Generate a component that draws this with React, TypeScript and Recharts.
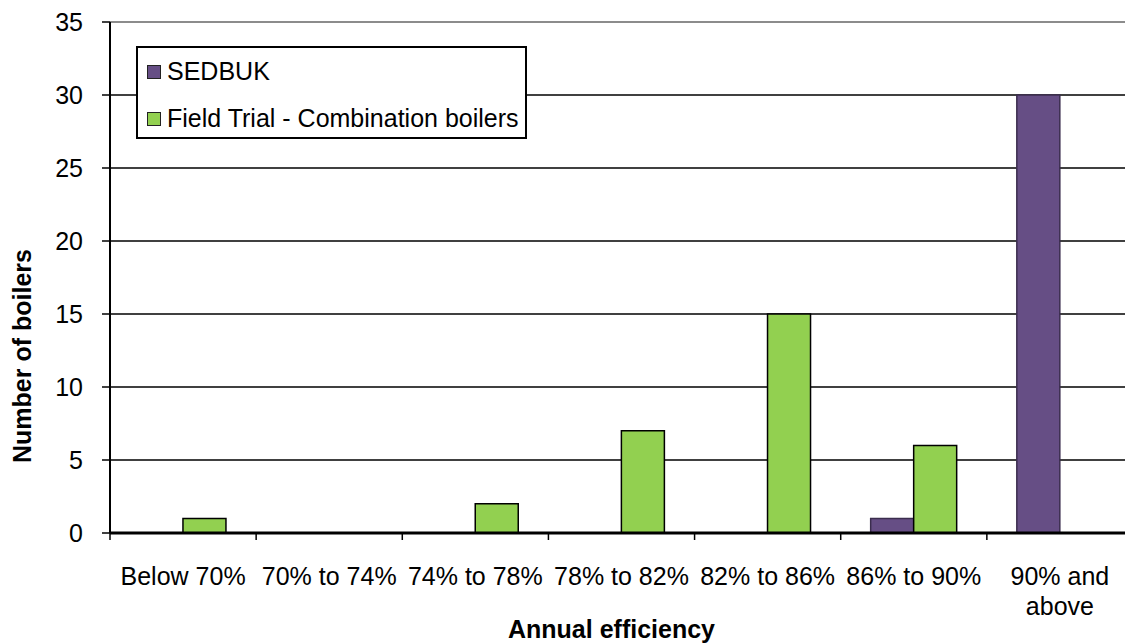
import React from "react";
import {
  BarChart,
  Bar,
  XAxis,
  YAxis,
  CartesianGrid,
  Legend,
  Label,
  ReferenceLine,
} from "recharts";

const FONT = "'Liberation Sans', Arial, sans-serif";

const categories = [
  "Below 70%",
  "70% to 74%",
  "74% to 78%",
  "78% to 82%",
  "82% to 86%",
  "86% to 90%",
  "90% and above",
];
const sedbuk = [0, 0, 0, 0, 0, 1, 30];
const fieldTrial = [1, 0, 2, 7, 15, 6, 0];
const yTicks = [0, 5, 10, 15, 20, 25, 30, 35];

const data = categories.map((name, i) => ({
  name,
  sedbuk: sedbuk[i],
  fieldTrial: fieldTrial[i],
}));

// series order as it appears in the legend
const seriesOrder = ["SEDBUK", "Field Trial - Combination boilers"];

// wrap long category names onto a second line
function wrapLabel(text: string, max: number) {
  const lines: string[] = [];
  let cur = "";
  text.split(" ").forEach((w) => {
    const next = cur ? cur + " " + w : w;
    if (next.length > max && cur) {
      lines.push(cur);
      cur = w;
    } else {
      cur = next;
    }
  });
  lines.push(cur);
  return lines;
}

function XTick(props: any) {
  const { x, y, payload } = props;
  const half = payload && payload.offset ? payload.offset : 73;
  const lines = wrapLabel(String(payload.value), 11);
  return (
    <g>
      <line
        x1={x - half}
        x2={x - half}
        y1={y}
        y2={y + 7}
        stroke="#000"
        strokeWidth={1.5}
      />
      <text
        x={x}
        y={y + 52}
        textAnchor="middle"
        fill="#000"
        fontSize={25}
        fontFamily={FONT}
      >
        {lines.map((l, i) => (
          <tspan key={i} x={x} dy={i === 0 ? 0 : 30}>
            {l}
          </tspan>
        ))}
      </text>
    </g>
  );
}

function LegendBox(props: any) {
  const items = [...(props.payload || [])].sort(
    (a: any, b: any) =>
      seriesOrder.indexOf(a.value) - seriesOrder.indexOf(b.value)
  );
  return (
    <div
      style={{
        width: 391,
        height: 93,
        boxSizing: "border-box",
        border: "2px solid #000",
        background: "#fff",
        position: "relative",
        fontFamily: FONT,
        fontSize: 25,
        color: "#000",
      }}
    >
      {items.map((it: any, i: number) => (
        <div
          key={it.value}
          style={{
            position: "absolute",
            left: 9,
            top: 9 + i * 47,
            display: "flex",
            alignItems: "center",
            lineHeight: "29px",
            whiteSpace: "nowrap",
          }}
        >
          <span
            style={{
              display: "inline-block",
              width: 14,
              height: 14,
              boxSizing: "border-box",
              background: it.color,
              border: "1.5px solid #222",
              marginRight: 6,
            }}
          />
          {it.value}
        </div>
      ))}
    </div>
  );
}

export default function App() {
  return (
    <div
      style={{
        position: "absolute",
        left: 0,
        top: 0,
        width: 1125,
        height: 644,
        overflow: "hidden",
        background: "#fff",
      }}
    >
      <BarChart
        width={1145}
        height={644}
        data={data}
        margin={{ top: 22, right: 12, left: 0, bottom: 0 }}
        barCategoryGap="20.5%"
        barGap={0}
      >
        <CartesianGrid vertical={false} stroke="#000" strokeWidth={1.6} />
        <ReferenceLine y={35} stroke="#8c8c8c" strokeWidth={2} />
        <XAxis
          dataKey="name"
          height={111}
          interval={0}
          tickSize={0}
          tickMargin={0}
          tickLine={false}
          tick={<XTick />}
          axisLine={{ stroke: "#000", strokeWidth: 3 }}
        >
          <Label
            content={(p: any) => {
              const vb = p.viewBox;
              return (
                <text
                  x={vb.x + vb.width / 2 - 10}
                  y={638}
                  textAnchor="middle"
                  fontSize={25}
                  fontWeight="bold"
                  fontFamily={FONT}
                  fill="#000"
                >
                  Annual efficiency
                </text>
              );
            }}
          />
        </XAxis>
        <YAxis
          width={110}
          domain={[0, 35]}
          ticks={yTicks}
          interval={0}
          tickSize={8}
          tickMargin={19}
          tickLine={{ stroke: "#000", strokeWidth: 1.5 }}
          axisLine={{ stroke: "#000", strokeWidth: 2 }}
          tick={{ fill: "#000", fontSize: 25, fontFamily: FONT }}
        >
          <Label
            content={() => (
              <text
                x={22}
                y={356}
                transform="rotate(-90 22 356)"
                textAnchor="middle"
                dominantBaseline="central"
                fontSize={25}
                fontWeight="bold"
                fontFamily={FONT}
                fill="#000"
              >
                Number of boilers
              </text>
            )}
          />
        </YAxis>
        <Legend
          layout="vertical"
          align="center"
          verticalAlign="middle"
          content={<LegendBox />}
          wrapperStyle={{ left: 136, top: 46, width: 391, height: 93 }}
        />
        <Bar
          dataKey="sedbuk"
          name="SEDBUK"
          fill="#664E85"
          stroke="#3b2d4e"
          strokeWidth={1.5}
          isAnimationActive={false}
        />
        <Bar
          dataKey="fieldTrial"
          name="Field Trial - Combination boilers"
          fill="#92D050"
          stroke="#000"
          strokeWidth={1.5}
          isAnimationActive={false}
        />
      </BarChart>
    </div>
  );
}
